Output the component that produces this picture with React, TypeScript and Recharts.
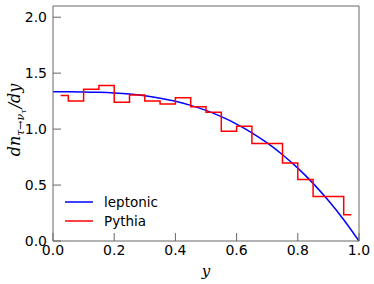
import { LineChart, Line, XAxis, YAxis, Legend } from 'recharts';

// leptonic curve
const leptonicY = [0, 0.05, 0.1, 0.15, 0.2, 0.25, 0.3, 0.35, 0.4, 0.45, 0.5, 0.55, 0.6, 0.65, 0.7, 0.75, 0.8, 0.85, 0.9, 0.95, 1.0];
const leptonicVal = [1.333, 1.333, 1.332, 1.329, 1.323, 1.313, 1.297, 1.276, 1.248, 1.212, 1.167, 1.111, 1.045, 0.967, 0.876, 0.771, 0.651, 0.515, 0.361, 0.19, 0];

// Pythia histogram, bin centres (drawn as mid steps)
const pythiaY = [0.025, 0.075, 0.125, 0.175, 0.225, 0.275, 0.325, 0.375, 0.425, 0.475, 0.525, 0.575, 0.625, 0.675, 0.725, 0.775, 0.825, 0.875, 0.925, 0.975];
const pythiaVal = [1.3, 1.25, 1.355, 1.39, 1.24, 1.305, 1.25, 1.225, 1.28, 1.2, 1.15, 0.98, 1.025, 0.872, 0.872, 0.698, 0.549, 0.398, 0.398, 0.235];

const xTicks = [0, 0.2, 0.4, 0.6, 0.8, 1.0];
const yTicks = [0, 0.5, 1.0, 1.5, 2.0];
const legendOrder = ['leptonic', 'Pythia'];

const leptonic = leptonicY.map((y, i) => ({ y, v: leptonicVal[i] }));
const pythia = pythiaY.map((y, i) => ({ y, v: pythiaVal[i] }));

const FRAME = '#666';
const TICK_FONT = { fontFamily: 'DejaVu Sans', fontSize: 14, fill: '#000' };

function YLabel() {
  return (
    <text
      transform="translate(20,120) rotate(-90)"
      textAnchor="middle"
      fontFamily="DejaVu Serif"
      fontStyle="italic"
      fontSize={16}
      fill="#000"
    >
      dn
      <tspan fontSize={11} dy={4}>τ→ν</tspan>
      <tspan fontSize={8} dy={2}>τ</tspan>
      <tspan fontSize={16} dy={-6} dx={1}>/dy</tspan>
    </text>
  );
}

function LegendBox(props: any) {
  const items = [...(props.payload || [])].sort(
    (a: any, b: any) => legendOrder.indexOf(a.value) - legendOrder.indexOf(b.value)
  );
  return (
    <div style={{ fontFamily: 'DejaVu Sans', fontSize: 13.5 }}>
      {items.map((it: any) => (
        <div key={it.value} style={{ display: 'flex', alignItems: 'center', height: 19.5 }}>
          <svg width={28} height={4} style={{ marginRight: 11 }}>
            <line x1={0} y1={2} x2={28} y2={2} stroke={it.color} strokeWidth={1.5} />
          </svg>
          <span>{it.value}</span>
        </div>
      ))}
    </div>
  );
}

export default function App() {
  return (
    <div style={{ position: 'absolute', left: 0, top: 0, background: '#fff' }}>
      <LineChart width={374} height={284} margin={{ top: 5, right: 14, bottom: 0, left: 0 }}>
        <XAxis
          xAxisId="b"
          dataKey="y"
          type="number"
          domain={[0, 1]}
          ticks={xTicks}
          tickFormatter={(t: number) => t.toFixed(1)}
          height={43}
          tickSize={-8}
          tickMargin={12}
          tick={TICK_FONT}
          stroke={FRAME}
          axisLine={{ stroke: FRAME }}
          label={{ value: 'y', position: 'insideBottom', offset: 8, style: { fontFamily: 'DejaVu Serif', fontStyle: 'italic', fontSize: 15, fill: '#000' } }}
        />
        <XAxis
          xAxisId="t"
          orientation="top"
          dataKey="y"
          type="number"
          domain={[0, 1]}
          ticks={xTicks}
          height={1}
          tickSize={-8}
          tickFormatter={() => ''}
          stroke={FRAME}
        />
        <YAxis
          yAxisId="l"
          type="number"
          domain={[0, 2.1]}
          ticks={yTicks}
          tickFormatter={(t: number) => t.toFixed(1)}
          width={53}
          tickSize={-8}
          tickMargin={14}
          tick={TICK_FONT}
          stroke={FRAME}
          label={<YLabel />}
        />
        <YAxis
          yAxisId="r"
          orientation="right"
          type="number"
          domain={[0, 2.1]}
          ticks={yTicks}
          width={1}
          tickSize={-8}
          tickFormatter={() => ''}
          stroke={FRAME}
        />
        <Line
          xAxisId="b"
          yAxisId="l"
          data={leptonic}
          dataKey="v"
          name="leptonic"
          type="monotone"
          stroke="#0000ff"
          strokeWidth={1.5}
          dot={false}
          isAnimationActive={false}
        />
        <Line
          xAxisId="b"
          yAxisId="l"
          data={pythia}
          dataKey="v"
          name="Pythia"
          type="step"
          stroke="#ff0000"
          strokeWidth={1.5}
          dot={false}
          isAnimationActive={false}
        />
        <Legend
          layout="horizontal"
          align="center"
          verticalAlign="middle"
          content={<LegendBox />}
          wrapperStyle={{ left: 65, top: 192, width: 'auto', bottom: 'auto' }}
        />
      </LineChart>
    </div>
  );
}
